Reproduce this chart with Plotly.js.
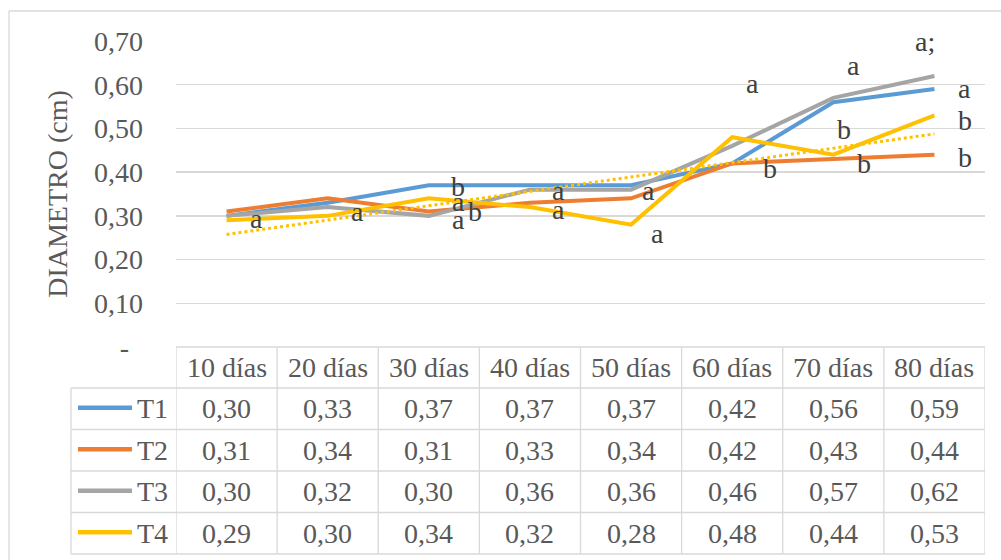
<!DOCTYPE html>
<html>
<head>
<meta charset="utf-8">
<script src="https://cdn.plot.ly/plotly-3.0.1.min.js"></script>
<style>
  html, body { margin: 0; padding: 0; background: #ffffff; }
  #chart { width: 1001px; height: 560px; }
</style>
</head>
<body>
<div id="chart"></div>
<script>
// Diameter growth per treatment, measured every 10 days
const days = ['10 días', '20 días', '30 días', '40 días', '50 días', '60 días', '70 días', '80 días'];
const seriesNames = ['T1', 'T2', 'T3', 'T4'];
const T1 = [0.30, 0.33, 0.37, 0.37, 0.37, 0.42, 0.56, 0.59];
const T2 = [0.31, 0.34, 0.31, 0.33, 0.34, 0.42, 0.43, 0.44];
const T3 = [0.30, 0.32, 0.30, 0.36, 0.36, 0.46, 0.57, 0.62];
const T4 = [0.29, 0.30, 0.34, 0.32, 0.28, 0.48, 0.44, 0.53];
const yTickVals = [0, 0.1, 0.2, 0.3, 0.4, 0.5, 0.6, 0.7];
const yTickText = ['-\u00a0\u00a0', '0,10', '0,20', '0,30', '0,40', '0,50', '0,60', '0,70'];

// Significance letters (Tukey groups) written next to the points
const sigText = ['a', 'a', 'b', 'a', 'a', 'b', 'a', 'a', 'a', 'a', 'a', 'b', 'a', 'b', 'b', 'a;', 'a', 'b', 'b'];
const sigCat  = [0.30, 1.29, 2.29, 2.29, 2.29, 2.46, 3.28, 3.28, 4.17, 4.26, 5.20, 5.37, 6.20, 6.11, 6.30, 6.91, 7.30, 7.30, 7.30];
const sigVal  = [0.294, 0.310, 0.368, 0.333, 0.292, 0.311, 0.358, 0.315, 0.358, 0.260, 0.602, 0.409, 0.643, 0.498, 0.420, 0.700, 0.591, 0.518, 0.434];

const series = [T1, T2, T3, T4];
const colors = ['#5B9BD5', '#ED7D31', '#A5A5A5', '#FFC000'];

const FONT = '"Liberation Serif", "Times New Roman", serif';
const TEXT = '#595959';
const GRID = '#D9D9D9';

// Plot-area geometry (pixels), used to place the data table under the axis
const M = { l: 176, r: 16, t: 41, b: 213 };
const W = 1001 - M.l - M.r;
const H = 560 - M.t - M.b;
const hx = px => (px - M.l) / W;
const vy = px => (560 - M.b - px) / H;

// Linear trend of T4 (least squares)
const idx = T4.map((_, i) => i + 1);
const mx = idx.reduce((a, b) => a + b, 0) / idx.length;
const my = T4.reduce((a, b) => a + b, 0) / T4.length;
let sxy = 0, sxx = 0;
idx.forEach((x, i) => { sxy += (x - mx) * (T4[i] - my); sxx += (x - mx) * (x - mx); });
const slope = sxy / sxx;
const trend = idx.map(x => my + slope * (x - mx));

const traces = series.map((s, k) => ({
  type: 'scatter', mode: 'lines', name: seriesNames[k],
  x: days, y: s,
  line: { color: colors[k], width: 4 },
  hoverinfo: 'skip'
}));
traces.push({
  type: 'scatter', mode: 'lines', name: 'Lineal (T4)',
  x: days, y: trend,
  line: { color: colors[3], width: 3, dash: 'dot' },
  hoverinfo: 'skip'
});

const annotations = [];
const shapes = [];

// significance letters
sigText.forEach((t, i) => annotations.push({
  xref: 'x', yref: 'y', x: sigCat[i], y: sigVal[i], text: t, showarrow: false,
  xanchor: 'center', yanchor: 'middle',
  font: { family: FONT, size: 28, color: '#404040' }
}));

// data table
const rowEdges = [347, 388, 429.5, 471, 512.5, 554];
const rowMid = r => vy((rowEdges[r] + rowEdges[r + 1]) / 2);
const fmt = v => v.toFixed(2).replace('.', ',');

days.forEach((d, i) => annotations.push({
  xref: 'x', yref: 'paper', x: i, y: rowMid(0), text: d, showarrow: false,
  xanchor: 'center', yanchor: 'middle', font: { family: FONT, size: 28, color: TEXT }
}));
series.forEach((s, k) => {
  s.forEach((v, i) => annotations.push({
    xref: 'x', yref: 'paper', x: i, y: rowMid(k + 1), text: fmt(v), showarrow: false,
    xanchor: 'center', yanchor: 'middle', font: { family: FONT, size: 28, color: TEXT }
  }));
  annotations.push({
    xref: 'paper', yref: 'paper', x: hx(135), y: rowMid(k + 1), text: seriesNames[k], showarrow: false,
    xanchor: 'left', yanchor: 'middle', font: { family: FONT, size: 28, color: TEXT }
  });
  shapes.push({
    type: 'line', xref: 'paper', yref: 'paper', x0: hx(78), x1: hx(132),
    y0: rowMid(k + 1) + 0.003, y1: rowMid(k + 1) + 0.003,
    line: { color: colors[k], width: 4.5 }
  });
});

const gl = { color: GRID, width: 1.3 };
// column rules
for (let i = 0; i <= days.length; i++) {
  shapes.push({ type: 'line', xref: 'x', yref: 'paper', x0: i - 0.5, x1: i - 0.5,
    y0: vy(rowEdges[0]), y1: vy(rowEdges[5]), line: gl, layer: 'below' });
}
shapes.push({ type: 'line', xref: 'paper', yref: 'paper', x0: hx(71), x1: hx(71),
  y0: vy(rowEdges[1]), y1: vy(rowEdges[5]), line: gl });
// row rules
shapes.push({ type: 'line', xref: 'paper', yref: 'paper', x0: 0, x1: 1,
  y0: vy(rowEdges[0]), y1: vy(rowEdges[0]), line: gl });
for (let r = 1; r < rowEdges.length; r++) {
  shapes.push({ type: 'line', xref: 'paper', yref: 'paper', x0: hx(71), x1: 1,
    y0: vy(rowEdges[r]), y1: vy(rowEdges[r]), line: gl });
}
// chart frame
shapes.push({ type: 'line', xref: 'paper', yref: 'paper', x0: hx(9), x1: hx(1010),
  y0: vy(11), y1: vy(11), line: gl });
shapes.push({ type: 'line', xref: 'paper', yref: 'paper', x0: hx(9), x1: hx(9),
  y0: vy(11), y1: vy(570), line: gl });

const layout = {
  width: 1001, height: 560,
  margin: M,
  paper_bgcolor: '#ffffff', plot_bgcolor: '#ffffff',
  showlegend: false,
  xaxis: {
    type: 'category', categoryarray: days, range: [-0.5, 7.5],
    showticklabels: false, showgrid: false, zeroline: false, showline: false, ticks: ''
  },
  yaxis: {
    range: [0, 0.7], tickvals: yTickVals, ticktext: yTickText,
    showgrid: true, gridcolor: GRID, gridwidth: 1.3, zeroline: false, showline: false,
    ticks: '', ticklabelstandoff: 32,
    tickfont: { family: FONT, size: 28, color: TEXT },
    title: { text: 'DIAMETRO (cm)', standoff: 18, font: { family: FONT, size: 28, color: TEXT } }
  },
  annotations: annotations,
  shapes: shapes
};

Plotly.newPlot('chart', traces, layout, { displayModeBar: false, staticPlot: true });
</script>
</body>
</html>
